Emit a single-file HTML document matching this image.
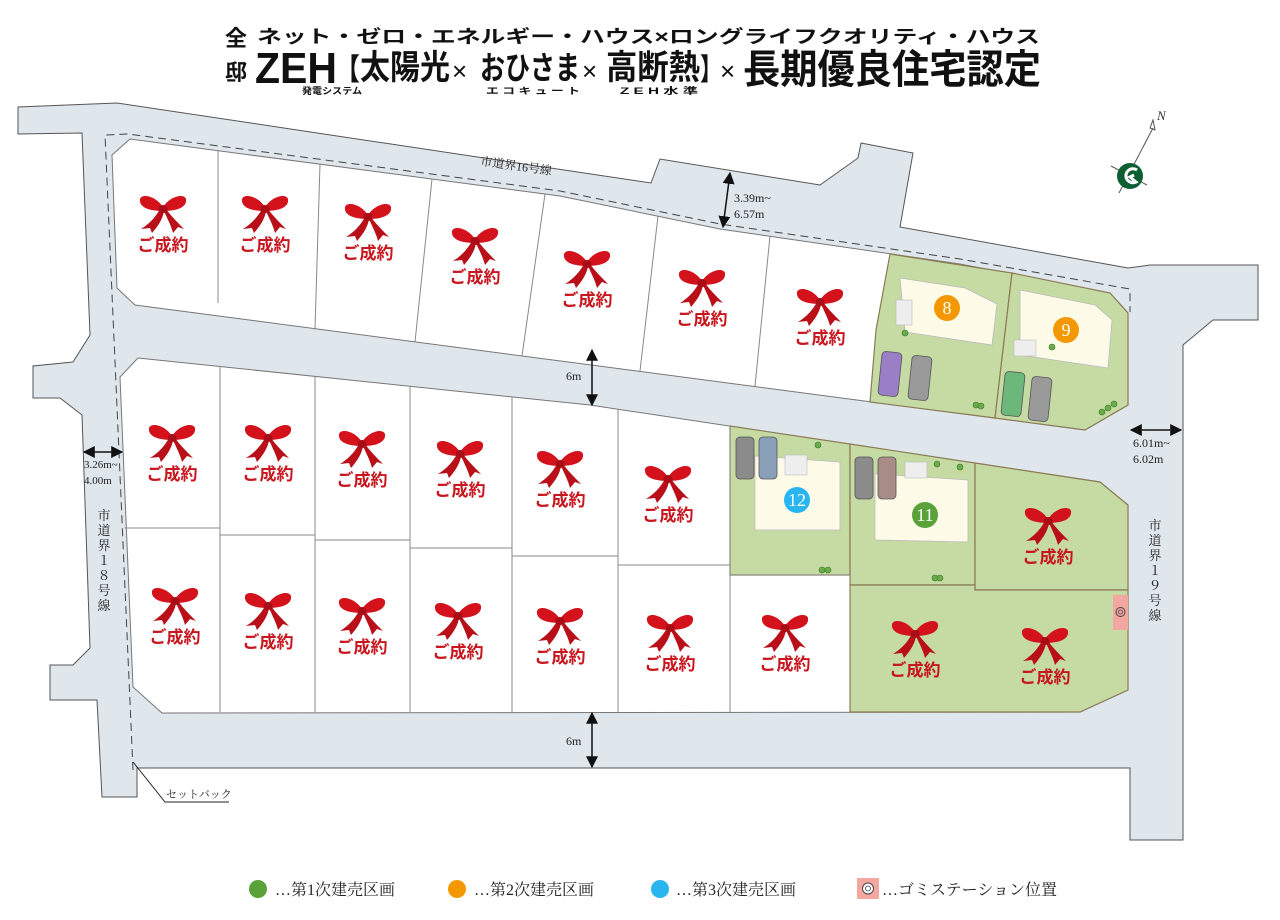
<!DOCTYPE html>
<html><head><meta charset="utf-8"><style>
html,body{margin:0;padding:0;background:#fff;width:1280px;height:920px;overflow:hidden}
svg{display:block}
.jp{font-family:"Liberation Sans","Noto Sans CJK JP",sans-serif}
.sf{font-family:"Liberation Serif","Noto Serif CJK SC",serif}
.sold{font-family:"Liberation Sans","Noto Sans CJK JP",sans-serif;font-weight:bold;font-size:17px;fill:#c8161e}
</style></head><body>
<svg width="1280" height="920" viewBox="0 0 1280 920" xmlns="http://www.w3.org/2000/svg">
<defs>
<symbol id="bow" viewBox="0 0 50 40">
<path d="M25 13 C18 2,4 -1,2 5 C1 12,8 17,25 17Z" fill="#d3121c"/>
<path d="M25 13 C32 2,46 -1,48 5 C49 12,42 17,25 17Z" fill="#d3121c"/>
<path d="M22 15 C17 24,11 30,3 35 L12 34 L14 39 C21 31,25 24,26 17Z" fill="#b80f18"/>
<path d="M25 15 C29 24,33 31,35 39 L40 33 L46 35 C39 28,33 22,28 15Z" fill="#b80f18"/>
<ellipse cx="25" cy="15" rx="4.5" ry="4" fill="#a80d15"/>
</symbol>
<marker id="ah" viewBox="0 0 10 10" refX="9" refY="5" markerWidth="8" markerHeight="8" orient="auto-start-reverse"><path d="M0 0L10 5L0 10Z" fill="#111"/></marker>
</defs>

<!-- header -->
<g class="jp" font-weight="bold" fill="#111">
<text x="225" y="46" font-size="22">全</text>
<text x="225" y="80" font-size="22">邸</text>
<text x="257" y="43" font-size="18" textLength="783" lengthAdjust="spacingAndGlyphs">ネット・ゼロ・エネルギー・ハウス×ロングライフクオリティ・ハウス</text>
<text x="255" y="83" font-size="44" textLength="82" lengthAdjust="spacingAndGlyphs">ZEH</text>
<text x="335" y="80" font-size="30" textLength="25" lengthAdjust="spacingAndGlyphs">【</text>
<text x="360" y="79" font-size="34" textLength="90" lengthAdjust="spacingAndGlyphs">太陽光</text>
<text x="452" y="80" font-size="26" font-weight="normal">×</text>
<text x="480" y="79" font-size="32" textLength="100" lengthAdjust="spacingAndGlyphs">おひさま</text>
<text x="582" y="80" font-size="26" font-weight="normal">×</text>
<text x="606" y="79" font-size="34" textLength="94" lengthAdjust="spacingAndGlyphs">高断熱</text>
<text x="700" y="80" font-size="30" textLength="22" lengthAdjust="spacingAndGlyphs">】</text>
<text x="720" y="80" font-size="26" font-weight="normal">×</text>
<text x="743" y="83" font-size="40" textLength="298" lengthAdjust="spacingAndGlyphs">長期優良住宅認定</text>
<text x="302" y="94" font-size="9" textLength="60" lengthAdjust="spacingAndGlyphs">発電システム</text>
<text x="486" y="94" font-size="9" textLength="94" lengthAdjust="spacingAndGlyphs">エ コ キ ュ ー ト</text>
<text x="620" y="94" font-size="9" textLength="78" lengthAdjust="spacingAndGlyphs">Z E H 水 準</text>
</g>

<!-- roads -->
<polygon fill="#dfe6ec" stroke="#555" stroke-width="1" points="18,107 117,103 651,183 660,159 820,185 858,158 861,143 913,153 900,227 1128,268 1150,265 1258,265 1258,320 1213,320 1183,345 1183,840 1130,840 1130,768 137,768 137,797 102,797 97,700 50,700 50,665 73,665 90,648 82,415 60,398 33,398 33,366 73,362 90,335 82,133 18,134"/>

<!-- upper block -->
<polygon fill="#fff" stroke="#777" stroke-width="1" points="130,139 560,196 720,229 960,264 1110,293 1128,313 1128,405 1085,430 135,305 117,288 112,155"/>
<!-- lower block -->
<polygon fill="#fff" stroke="#777" stroke-width="1" points="138,358 590,405 1100,482 1128,505 1128,690 1080,712 162,713 133,687 120,377"/>

<!-- green lots -->
<g fill="#c6dba3" stroke="#8a7a55" stroke-width="1.2">
<polygon points="890,254 1012,273 995,418 870,402 876,330"/>
<polygon points="1012,273 1110,293 1128,313 1128,405 1085,430 995,418"/>
<polygon points="730,426 850,444 850,575 730,575"/>
<polygon points="850,444 975,463 975,585 850,585"/>
<polygon points="975,463 1100,482 1128,505 1128,590 975,590"/>
<polygon points="850,585 975,585 975,590 1128,590 1128,690 1080,712 850,712"/>
</g>

<g stroke="#888" stroke-width="1">
<line x1="218" y1="151" x2="218" y2="303"/>
<line x1="320" y1="164" x2="315" y2="329"/>
<line x1="432" y1="179" x2="415" y2="342"/>
<line x1="545" y1="194" x2="522" y2="356"/>
<line x1="658" y1="216" x2="640" y2="371"/>
<line x1="770" y1="236" x2="755" y2="386"/>
<line x1="220" y1="366" x2="220" y2="712"/>
<line x1="315" y1="376" x2="315" y2="712"/>
<line x1="410" y1="386" x2="410" y2="712"/>
<line x1="512" y1="397" x2="512" y2="712"/>
<line x1="618" y1="409" x2="618" y2="712"/>
<line x1="730" y1="426" x2="730" y2="712"/>
<line x1="125" y1="528" x2="220" y2="528"/>
<line x1="220" y1="535" x2="315" y2="535"/>
<line x1="315" y1="540" x2="410" y2="540"/>
<line x1="410" y1="548" x2="512" y2="548"/>
<line x1="512" y1="556" x2="618" y2="556"/>
<line x1="618" y1="565" x2="730" y2="565"/>
<line x1="730" y1="575" x2="850" y2="575"/>
</g>

<!-- dashed boundary -->
<polyline points="133,770 105,135 128,134 560,191 720,224 960,259 1130,289 1130,312" fill="none" stroke="#444" stroke-width="1" stroke-dasharray="8,5"/>

<!-- houses -->
<g fill="#fdfbe8" stroke="#bbb" stroke-width="0.8">
<polygon points="900,278 965,288 985,298 997,304 992,345 905,332"/>
<polygon points="1020,290 1095,305 1112,320 1108,368 1020,355"/>
<polygon points="755,456 840,462 840,530 755,530"/>
<polygon points="875,474 968,480 968,542 875,540"/>
</g>
<g fill="#eee" stroke="#bbb" stroke-width="0.6">
<rect x="896" y="300" width="16" height="25"/><rect x="1014" y="340" width="22" height="16"/>
<rect x="785" y="455" width="22" height="20"/><rect x="905" y="462" width="22" height="16"/>
</g>
<g stroke="#555" stroke-width="0.8">
<rect x="880" y="352" width="20" height="44" rx="4" fill="#9b7fc6" transform="rotate(6 890 374)"/>
<rect x="910" y="356" width="20" height="44" rx="4" fill="#9a9a9a" transform="rotate(6 920 378)"/>
<rect x="1003" y="372" width="20" height="44" rx="4" fill="#6cb77a" transform="rotate(6 1013 394)"/>
<rect x="1030" y="377" width="20" height="44" rx="4" fill="#9a9a9a" transform="rotate(6 1040 399)"/>
<rect x="736" y="437" width="18" height="42" rx="4" fill="#8b8b8b"/>
<rect x="759" y="437" width="18" height="42" rx="4" fill="#8a9fb8"/>
<rect x="855" y="457" width="18" height="42" rx="4" fill="#8b8b8b"/>
<rect x="878" y="457" width="18" height="42" rx="4" fill="#a88d86"/>
</g>
<g fill="#6aab4a" stroke="#3f7a2c" stroke-width="0.6">
<circle cx="1102" cy="412" r="3"/><circle cx="1108" cy="408" r="3"/><circle cx="1114" cy="404" r="3"/>
<circle cx="905" cy="333" r="3"/><circle cx="976" cy="405" r="3"/><circle cx="981" cy="406" r="3"/>
<circle cx="822" cy="570" r="3"/><circle cx="828" cy="570" r="3"/><circle cx="935" cy="578" r="3"/><circle cx="940" cy="578" r="3"/>
<circle cx="818" cy="445" r="3"/><circle cx="937" cy="464" r="3"/><circle cx="960" cy="467" r="3"/><circle cx="1052" cy="347" r="3"/>
</g>

<g class="sf" font-size="18" fill="#fff" text-anchor="middle">
<circle cx="947" cy="308" r="13" fill="#f39800"/><text x="947" y="314">8</text>
<circle cx="1066" cy="330" r="13" fill="#f39800"/><text x="1066" y="336">9</text>
<circle cx="797" cy="500" r="13" fill="#29b6f0"/><text x="797" y="506">12</text>
<circle cx="925" cy="515" r="13" fill="#5aa13a"/><text x="925" y="521">11</text>
</g>

<!-- sold labels -->
<g>
<use href="#bow" x="138" y="194" width="50" height="40"/><text class="sold" x="163" y="251" text-anchor="middle">ご成約</text>
<use href="#bow" x="240" y="194" width="50" height="40"/><text class="sold" x="265" y="251" text-anchor="middle">ご成約</text>
<use href="#bow" x="343" y="202" width="50" height="40"/><text class="sold" x="368" y="259" text-anchor="middle">ご成約</text>
<use href="#bow" x="450" y="226" width="50" height="40"/><text class="sold" x="475" y="283" text-anchor="middle">ご成約</text>
<use href="#bow" x="562" y="249" width="50" height="40"/><text class="sold" x="587" y="306" text-anchor="middle">ご成約</text>
<use href="#bow" x="677" y="268" width="50" height="40"/><text class="sold" x="702" y="325" text-anchor="middle">ご成約</text>
<use href="#bow" x="795" y="287" width="50" height="40"/><text class="sold" x="820" y="344" text-anchor="middle">ご成約</text>

<use href="#bow" x="147" y="423" width="50" height="40"/><text class="sold" x="172" y="480" text-anchor="middle">ご成約</text>
<use href="#bow" x="243" y="423" width="50" height="40"/><text class="sold" x="268" y="480" text-anchor="middle">ご成約</text>
<use href="#bow" x="337" y="429" width="50" height="40"/><text class="sold" x="362" y="486" text-anchor="middle">ご成約</text>
<use href="#bow" x="435" y="439" width="50" height="40"/><text class="sold" x="460" y="496" text-anchor="middle">ご成約</text>
<use href="#bow" x="535" y="449" width="50" height="40"/><text class="sold" x="560" y="506" text-anchor="middle">ご成約</text>
<use href="#bow" x="643" y="464" width="50" height="40"/><text class="sold" x="668" y="521" text-anchor="middle">ご成約</text>
<use href="#bow" x="1023" y="506" width="50" height="40"/><text class="sold" x="1048" y="563" text-anchor="middle">ご成約</text>

<use href="#bow" x="150" y="586" width="50" height="40"/><text class="sold" x="175" y="643" text-anchor="middle">ご成約</text>
<use href="#bow" x="243" y="591" width="50" height="40"/><text class="sold" x="268" y="648" text-anchor="middle">ご成約</text>
<use href="#bow" x="337" y="596" width="50" height="40"/><text class="sold" x="362" y="653" text-anchor="middle">ご成約</text>
<use href="#bow" x="433" y="601" width="50" height="40"/><text class="sold" x="458" y="658" text-anchor="middle">ご成約</text>
<use href="#bow" x="535" y="606" width="50" height="40"/><text class="sold" x="560" y="663" text-anchor="middle">ご成約</text>
<use href="#bow" x="645" y="613" width="50" height="40"/><text class="sold" x="670" y="670" text-anchor="middle">ご成約</text>
<use href="#bow" x="760" y="613" width="50" height="40"/><text class="sold" x="785" y="670" text-anchor="middle">ご成約</text>
<use href="#bow" x="890" y="619" width="50" height="40"/><text class="sold" x="915" y="676" text-anchor="middle">ご成約</text>
<use href="#bow" x="1020" y="626" width="50" height="40"/><text class="sold" x="1045" y="683" text-anchor="middle">ご成約</text>
</g>

<rect x="1113" y="595" width="15" height="35" fill="#f4a6a0"/>
<circle cx="1120.5" cy="612" r="4.5" fill="none" stroke="#444" stroke-width="1"/><circle cx="1120.5" cy="612" r="2" fill="none" stroke="#444" stroke-width="0.8"/>

<g stroke="#111" stroke-width="1.5" marker-start="url(#ah)" marker-end="url(#ah)">
<line x1="730" y1="173" x2="723" y2="227"/>
<line x1="592" y1="350" x2="592" y2="405"/>
<line x1="592" y1="713" x2="592" y2="767"/>
<line x1="1131" y1="430" x2="1181" y2="430"/>
<line x1="84" y1="452" x2="122" y2="452"/>
</g>
<g class="sf" fill="#222">
<text x="734" y="202" font-size="12">3.39m~</text>
<text x="734" y="218" font-size="12">6.57m</text>
<text x="566" y="380" font-size="12">6m</text>
<text x="566" y="745" font-size="12">6m</text>
<text x="1133" y="447" font-size="12">6.01m~</text>
<text x="1133" y="463" font-size="12">6.02m</text>
<text x="84" y="468" font-size="11">3.26m~</text>
<text x="84" y="484" font-size="11">4.00m</text>
<text x="480" y="165" font-size="12" transform="rotate(8 480 165)">市道界16号線</text>
<g font-size="13" text-anchor="middle">
<text x="104" y="520">市</text><text x="104" y="535">道</text><text x="104" y="550">界</text><text x="104" y="565">１</text><text x="104" y="580">８</text><text x="104" y="595">号</text><text x="104" y="610">線</text>
<text x="1155" y="530">市</text><text x="1155" y="545">道</text><text x="1155" y="560">界</text><text x="1155" y="575">１</text><text x="1155" y="590">９</text><text x="1155" y="605">号</text><text x="1155" y="620">線</text>
</g>
<text x="166" y="798" font-size="11">セットバック</text>
</g>
<polyline points="133,762 165,802 229,802" fill="none" stroke="#222" stroke-width="1"/>

<line x1="1119" y1="193" x2="1153" y2="128" stroke="#555" stroke-width="1"/>
<line x1="1111" y1="166" x2="1147" y2="185" stroke="#555" stroke-width="1"/>
<path d="M1150 128 L1153 120 L1155 130 Z" fill="none" stroke="#555"/>
<circle cx="1130" cy="176" r="13" fill="#0d5e33"/>
<path d="M1137 170 A7 7 0 1 0 1136 182 L1130 177 L1134 175" fill="none" stroke="#fff" stroke-width="3"/>
<text x="1157" y="120" class="sf" font-size="13" font-style="italic" fill="#333">N</text>

<g class="sf" font-size="16" fill="#222">
<circle cx="258" cy="889" r="9" fill="#5aa13a"/><text x="275" y="895">…第1次建売区画</text>
<circle cx="457" cy="889" r="9" fill="#f39800"/><text x="474" y="895">…第2次建売区画</text>
<circle cx="660" cy="889" r="9" fill="#29b6f0"/><text x="676" y="895">…第3次建売区画</text>
<rect x="857" y="878" width="22" height="21" fill="#f4a6a0"/>
<circle cx="868" cy="888.5" r="5.5" fill="#fff" stroke="#444" stroke-width="1"/><circle cx="868" cy="888.5" r="2.5" fill="none" stroke="#444" stroke-width="0.8"/>
<text x="882" y="895">…ゴミステーション位置</text>
</g>
</svg>
</body></html>
